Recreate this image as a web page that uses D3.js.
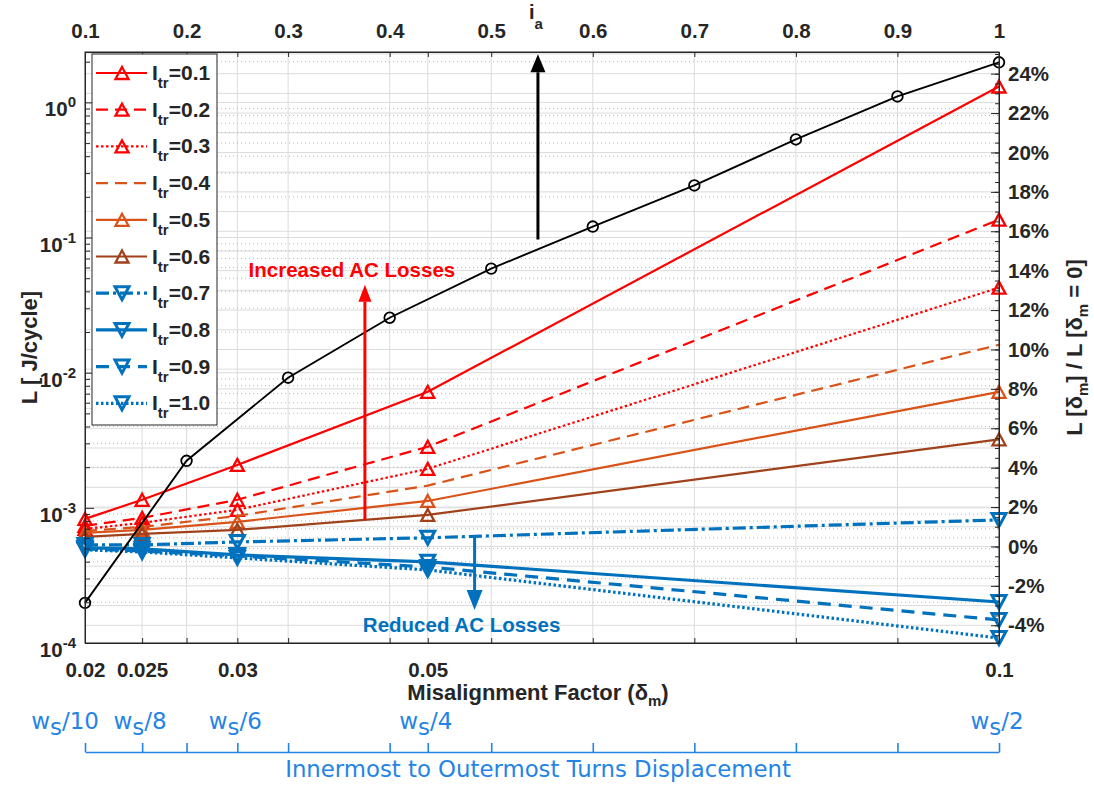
<!DOCTYPE html>
<html><head><meta charset="utf-8">
<script src="https://cdn.jsdelivr.net/npm/d3@7/dist/d3.min.js"></script>
<style>
html,body{margin:0;padding:0;background:#fff;}
svg{display:block;}
</style></head>
<body>
<svg id="chart" width="1094" height="788"></svg>
<script>
// ---------------- data ----------------
const deltaValues = [0.02, 0.025, 1/30, 0.05, 0.1];
const deltaTickLabels = ["0.02", "0.025", "0.03", "0.05", "0.1"];
const wsDivisors = ["10", "8", "6", "4", "2"];
const iaTicks = [0.1, 0.2, 0.3, 0.4, 0.5, 0.6, 0.7, 0.8, 0.9, 1.0];
const iaTickLabels = ["0.1", "0.2", "0.3", "0.4", "0.5", "0.6", "0.7", "0.8", "0.9", "1"];
const lossIa = [0.1, 0.2, 0.3, 0.4, 0.5, 0.6, 0.7, 0.8, 0.9, 1.0];
const lossValues = [1.98e-4, 2.23e-3, 9.18e-3, 0.0255, 0.0589, 0.1206, 0.243, 0.532, 1.107, 1.98];
const itrLabels = ["0.1", "0.2", "0.3", "0.4", "0.5", "0.6", "0.7", "0.8", "0.9", "1.0"];
const ratioItr01 = [1.40, 2.37, 4.14, 7.85, 23.35];
const ratioItr02 = [1.05, 1.45, 2.37, 5.06, 16.59];
const ratioItr03 = [0.89, 1.20, 1.86, 3.94, 13.14];
const ratioItr04 = [0.79, 0.99, 1.55, 3.09, 10.24];
const ratioItr05 = [0.69, 0.84, 1.25, 2.31, 7.85];
const ratioItr06 = [0.49, 0.64, 0.84, 1.60, 5.44];
const ratioItr07 = [0.08, 0.08, 0.23, 0.44, 1.35];
const ratioItr08 = [-0.07, -0.12, -0.43, -0.78, -2.82];
const ratioItr09 = [-0.12, -0.23, -0.48, -1.04, -3.73];
const ratioItr10 = [-0.17, -0.28, -0.58, -1.19, -4.65];
const rightTickValues = [-4, -2, 0, 2, 4, 6, 8, 10, 12, 14, 16, 18, 20, 22, 24];
const leftMajorTicks = [1e-4, 1e-3, 1e-2, 1e-1, 1];
const leftTickExponents = ["-4", "-3", "-2", "-1", "0"];

// ---------------- styles ----------------
const RED = "#FF0000", ORANGE = "#D95319", BROWN = "#A0411B", BLUE = "#0072BD";
const AX = "#262626", GRID = "#dcdcdc", MINOR = "#b8b8b8", DISP = "#2484E6";
const FONT = "'Liberation Sans', Arial, Helvetica, sans-serif";
const DFONT = "'DejaVu Sans', Verdana, sans-serif";
const TICKSIZE = 20.5, LABELSIZE = 22;
const allSeries = [ratioItr01, ratioItr02, ratioItr03, ratioItr04, ratioItr05,
                   ratioItr06, ratioItr07, ratioItr08, ratioItr09, ratioItr10];
const seriesStyle = [
  {color: RED, dash: null, marker: "up", w: 2.2},
  {color: RED, dash: "12,7", marker: "up", w: 2.2},
  {color: RED, dash: "2.5,2.5", marker: "up", w: 2.2},
  {color: ORANGE, dash: "12,7", marker: null, w: 2.2},
  {color: ORANGE, dash: null, marker: "up", w: 2.2},
  {color: BROWN, dash: null, marker: "up", w: 2.2},
  {color: BLUE, dash: "13,4,3,4", marker: "down", w: 3.2},
  {color: BLUE, dash: null, marker: "down", w: 3.2},
  {color: BLUE, dash: "13,8", marker: "down", w: 3.2},
  {color: BLUE, dash: "2.5,2.5", marker: "down", w: 3.2}
];

// ---------------- layout ----------------
const L = 85, R = 999, T = 52, B = 643;
const svg = d3.select("#chart");
const x = d3.scaleLinear().domain([0.02, 0.1]).range([L, R]);
const xTop = d3.scaleLinear().domain([0.1, 1]).range([L, R]);
const yL = d3.scaleLog().domain([1e-4, 2.36]).range([B, T]);
const yR = d3.scaleLinear().domain([-4.9, 25.1]).range([B, T]);

const iaToDelta = v => x.invert(xTop(v));
const deltaToIa = v => xTop.invert(x(v));
const allDeltaTicks = [...new Set([...deltaValues, ...iaTicks.map(iaToDelta)])].sort((a, b) => a - b);
const allIaTicks = [...new Set([...iaTicks, ...deltaValues.map(deltaToIa)])].sort((a, b) => a - b);

function rich(parent, xx, yy, parts, attrs) {
  const t = parent.append("text").attr("x", xx).attr("y", yy);
  Object.entries(attrs || {}).forEach(([k, v]) => t.attr(k, v));
  let cur = 0;
  parts.forEach(p => {
    const s = p.dy || 0;
    const ts = t.append("tspan").attr("dy", s - cur).text(p.t);
    if (p.size) ts.attr("font-size", p.size);
    cur = s;
  });
  return t;
}

// ---------------- grid ----------------
const grid = svg.append("g");
allDeltaTicks.forEach(d => {
  const px = x(d);
  if (px > L + 1 && px < R - 1)
    grid.append("line").attr("x1", px).attr("x2", px).attr("y1", T).attr("y2", B)
      .attr("stroke", GRID).attr("stroke-width", 1);
});
for (let p = -4; p <= 25; p++) {
  grid.append("line").attr("x1", L).attr("x2", R).attr("y1", yR(p)).attr("y2", yR(p))
    .attr("stroke", GRID).attr("stroke-width", 1);
}
const leftMinorTicks = [];
for (let k = -4; k <= 0; k++) for (let m = 2; m <= 9; m++) {
  const v = m * Math.pow(10, k);
  if (v < yL.domain()[1]) leftMinorTicks.push(v);
}
leftMinorTicks.forEach(v => {
  grid.append("line").attr("x1", L).attr("x2", R).attr("y1", yL(v)).attr("y2", yL(v))
    .attr("stroke", MINOR).attr("stroke-width", 1).attr("stroke-dasharray", "1,3");
});
leftMajorTicks.forEach(v => {
  grid.append("line").attr("x1", L).attr("x2", R).attr("y1", yL(v)).attr("y2", yL(v))
    .attr("stroke", GRID).attr("stroke-width", 1);
});

// ---------------- markers ----------------
function triPath(dir, w, h) {
  return dir === "up"
    ? `M0,${-h / 2}L${w / 2},${h / 2}L${-w / 2},${h / 2}Z`
    : `M0,${h / 2}L${w / 2},${-h / 2}L${-w / 2},${-h / 2}Z`;
}
function markerPath(kind) {
  return kind === "up" ? triPath("up", 13, 12) : triPath("down", 14, 13);
}

// ---------------- series ----------------
const plot = svg.append("g");
allSeries.forEach((vals, si) => {
  const st = seriesStyle[si];
  const line = d3.line().x((d, i) => x(deltaValues[i])).y(d => yR(d));
  plot.append("path").attr("d", line(vals)).attr("fill", "none")
    .attr("stroke", st.color).attr("stroke-width", st.w)
    .attr("stroke-dasharray", st.dash).attr("stroke-linejoin", "round");
  if (st.marker) {
    vals.forEach((v, i) => {
      plot.append("path")
        .attr("transform", `translate(${x(deltaValues[i])},${yR(v)})`)
        .attr("d", markerPath(st.marker))
        .attr("fill", "none").attr("stroke", st.color)
        .attr("stroke-width", st.marker === "up" ? 2.3 : 3);
    });
  }
});

// black loss curve vs i_a (top axis), left log axis
const lossLine = d3.line().x((d, i) => xTop(lossIa[i])).y(d => yL(d));
plot.append("path").attr("d", lossLine(lossValues)).attr("fill", "none")
  .attr("stroke", "#000").attr("stroke-width", 1.9);
lossValues.forEach((v, i) => {
  plot.append("circle").attr("cx", xTop(lossIa[i])).attr("cy", yL(v)).attr("r", 5.3)
    .attr("fill", "none").attr("stroke", "#000").attr("stroke-width", 1.8);
});

// ---------------- annotations ----------------
function arrow(g, px, yFrom, yTip, color, hw, hl, sw) {
  const dir = yTip < yFrom ? -1 : 1;
  g.append("line").attr("x1", px).attr("x2", px).attr("y1", yFrom).attr("y2", yTip - dir * hl)
    .attr("stroke", color).attr("stroke-width", sw);
  g.append("path")
    .attr("d", `M${px},${yTip}L${px + hw / 2},${yTip - dir * hl}L${px - hw / 2},${yTip - dir * hl}Z`)
    .attr("fill", color);
}
const ann = svg.append("g");
arrow(ann, xTop(0.546), yL(0.0967), yL(2.27), "#000", 15, 18, 3);
arrow(ann, x(0.0445), yR(1.35), yR(13.29), RED, 13, 17, 3);
arrow(ann, x(0.0541), yR(0.49), yR(-3.23), BLUE, 16, 20, 3);
ann.append("text").attr("x", x(0.0445) - 13).attr("y", yR(13.29) - 8)
  .attr("text-anchor", "middle").attr("font-family", FONT).attr("font-weight", "bold")
  .attr("font-size", 20.5).attr("fill", RED).text("Increased AC Losses");
ann.append("text").attr("x", x(0.0541) - 13).attr("y", yR(-3.23) + 22)
  .attr("text-anchor", "middle").attr("font-family", FONT).attr("font-weight", "bold")
  .attr("font-size", 20.5).attr("fill", BLUE).text("Reduced AC Losses");

// ---------------- axes ----------------
function styleAxis(g, color) {
  g.selectAll(".domain").attr("stroke", color || AX);
  g.selectAll(".tick line").attr("stroke", color || AX);
  g.selectAll("text").attr("font-family", FONT).attr("font-weight", "bold")
    .attr("font-size", TICKSIZE).attr("fill", color || AX);
}
// bottom
const gB = svg.append("g").attr("transform", `translate(0,${B})`)
  .call(d3.axisBottom(x).tickValues(allDeltaTicks).tickSizeInner(-5).tickSizeOuter(0).tickPadding(19)
    .tickFormat(d => { const k = deltaValues.findIndex(v => Math.abs(v - d) < 1e-9); return k >= 0 ? deltaTickLabels[k] : ""; }));
styleAxis(gB);
// top
const gT = svg.append("g").attr("transform", `translate(0,${T})`)
  .call(d3.axisTop(xTop).tickValues(allIaTicks).tickSizeInner(-5).tickSizeOuter(0).tickPadding(14)
    .tickFormat(d => { const k = iaTicks.findIndex(v => Math.abs(v - d) < 1e-9); return k >= 0 ? iaTickLabels[k] : ""; }));
styleAxis(gT);
// left
const gLm = svg.append("g").attr("transform", `translate(${L},0)`)
  .call(d3.axisLeft(yL).tickValues(leftMinorTicks).tickSizeInner(-5).tickSizeOuter(0).tickFormat(""));
styleAxis(gLm);
const gL = svg.append("g").attr("transform", `translate(${L},0)`)
  .call(d3.axisLeft(yL).tickValues(leftMajorTicks).tickSizeInner(-9).tickSizeOuter(0).tickFormat(""));
styleAxis(gL);
leftMajorTicks.forEach((v, i) => {
  rich(svg, 76, yL(v) + 14, [{t: "10"}, {t: leftTickExponents[i], dy: -9, size: 15}],
    {"text-anchor": "end", "font-family": FONT, "font-weight": "bold", "font-size": TICKSIZE, "fill": AX});
});
// right
const halfSteps = d3.range(-4.5, 25.01, 0.5);
const gRm = svg.append("g").attr("transform", `translate(${R},0)`)
  .call(d3.axisRight(yR).tickValues(halfSteps).tickSizeInner(-4).tickSizeOuter(0).tickFormat(""));
styleAxis(gRm);
const gR = svg.append("g").attr("transform", `translate(${R},0)`)
  .call(d3.axisRight(yR).tickValues(rightTickValues).tickSizeInner(-8).tickSizeOuter(0).tickPadding(9)
    .tickFormat(d => d + "%"));
styleAxis(gR);
// box
svg.append("rect").attr("x", L).attr("y", T).attr("width", R - L).attr("height", B - T)
  .attr("fill", "none").attr("stroke", AX).attr("stroke-width", 1);

// axis titles
rich(svg, (L + R) / 2 - 4, 700, [{t: "Misalignment Factor (δ"}, {t: "m", dy: 6, size: 15}, {t: ")", dy: 0}],
  {"text-anchor": "middle", "font-family": FONT, "font-weight": "bold", "font-size": LABELSIZE, "fill": AX});
rich(svg, 536, 19, [{t: "i"}, {t: "a", dy: 10, size: 15}],
  {"text-anchor": "middle", "font-family": FONT, "font-weight": "bold", "font-size": 20, "fill": AX});
rich(svg, 0, 0, [{t: "L [ J/cycle]"}],
  {"text-anchor": "middle", "font-family": FONT, "font-weight": "bold", "font-size": LABELSIZE, "fill": AX,
   "transform": `translate(37,${(T + B) / 2}) rotate(-90)`});
rich(svg, 0, 0, [{t: "L [δ"}, {t: "m", dy: 6, size: 15}, {t: "] / L [δ", dy: 0}, {t: "m", dy: 6, size: 15}, {t: " = 0]", dy: 0}],
  {"text-anchor": "middle", "font-family": FONT, "font-weight": "bold", "font-size": LABELSIZE, "fill": AX,
   "transform": `translate(1082,${(T + B) / 2}) rotate(-90)`});

// ---------------- legend ----------------
const lg = svg.append("g");
const LX = 92, LY = 54, LW = 125, LH = 371;
lg.append("rect").attr("x", LX).attr("y", LY).attr("width", LW).attr("height", LH)
  .attr("fill", "#fff").attr("stroke", AX).attr("stroke-width", 1);
itrLabels.forEach((lab, i) => {
  const st = seriesStyle[i];
  const cy = LY + 19 + i * 36.7;
  lg.append("line").attr("x1", LX + 4).attr("x2", LX + 55).attr("y1", cy).attr("y2", cy)
    .attr("stroke", st.color).attr("stroke-width", st.w).attr("stroke-dasharray", st.dash);
  if (st.marker) {
    lg.append("path").attr("transform", `translate(${LX + 30},${cy})`)
      .attr("d", markerPath(st.marker))
      .attr("fill", "none").attr("stroke", st.color).attr("stroke-width", st.marker === "up" ? 2.3 : 3);
  }
  rich(lg, LX + 60, cy + 7, [{t: "I"}, {t: "tr", dy: 8, size: 15}, {t: "=" + lab, dy: 0}],
    {"font-family": FONT, "font-weight": "bold", "font-size": 21, "fill": AX});
});

// ---------------- displacement axis ----------------
const DY = 752;
const gD = svg.append("g").attr("transform", `translate(0,${DY})`)
  .call(d3.axisTop(x).tickValues(allDeltaTicks).tickSizeInner(9).tickSizeOuter(0).tickFormat(""));
gD.selectAll(".domain").attr("stroke", DISP).attr("stroke-width", 1.6);
gD.selectAll(".tick line").attr("stroke", DISP).attr("stroke-width", 1.6);
deltaValues.forEach((d, i) => {
  const first = i === 0;
  rich(svg, first ? x(d) + 14 : x(d) - 2, 729, [{t: "w"}, {t: "s", dy: 6}, {t: "/" + wsDivisors[i], dy: 0}],
    {"text-anchor": first ? "end" : "middle", "font-family": DFONT, "font-size": 23, "fill": DISP});
});
svg.append("text").attr("x", 538).attr("y", 777).attr("text-anchor", "middle")
  .attr("font-family", DFONT).attr("font-size", 22.8).attr("fill", DISP)
  .text("Innermost to Outermost Turns Displacement");
</script>
</body></html>
